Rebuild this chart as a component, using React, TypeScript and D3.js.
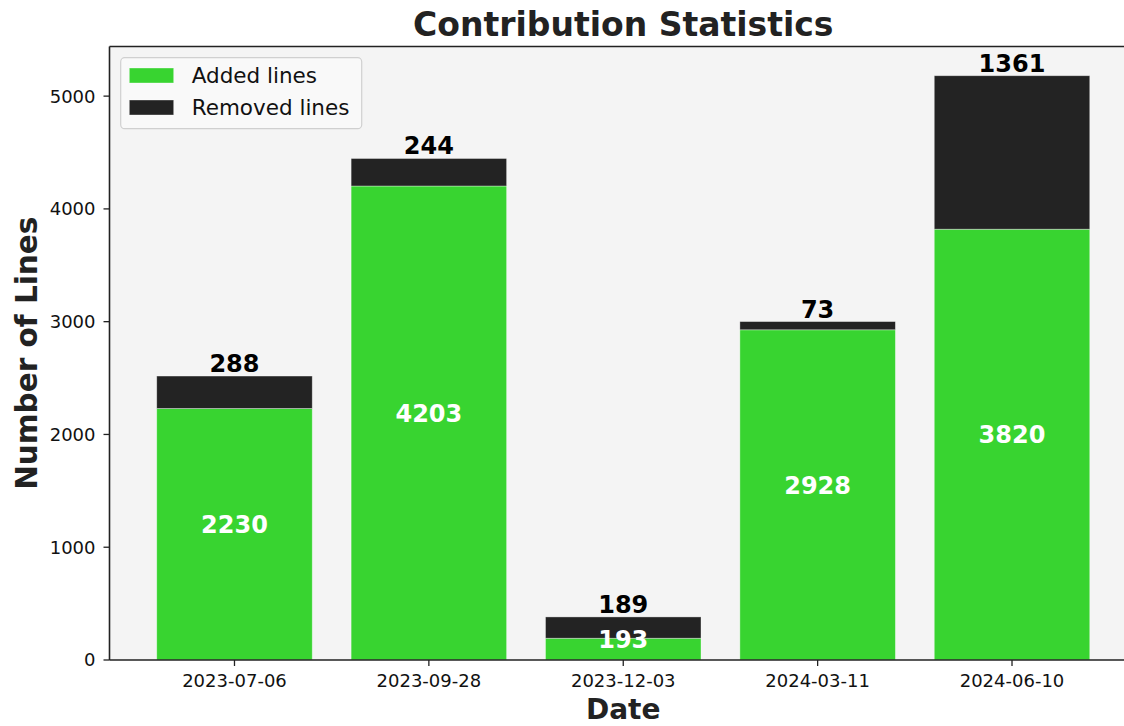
import * as d3 from "d3";

const dates = ["2023-07-06", "2023-09-28", "2023-12-03", "2024-03-11", "2024-06-10"];
const addedLines = [2230, 4203, 193, 2928, 3820];
const removedLines = [288, 244, 189, 73, 1361];
const yTicks = [0, 1000, 2000, 3000, 4000, 5000];

const W = 1124;
const H = 726;
const plot = { left: 109.5, right: 1137, top: 46.5, bottom: 660 };

const GREEN = "#38d430";
const DARK = "#232323";
const FONT = "DejaVu Sans, sans-serif";

export default function App() {
	const totals = dates.map((_, i) => addedLines[i] + removedLines[i]);
	const x = d3
		.scaleBand<string>()
		.domain(dates)
		.range([plot.left, plot.right])
		.paddingInner(0.2)
		.paddingOuter(0.243);
	const y = d3
		.scaleLinear()
		.domain([0, (d3.max(totals) ?? 0) * 1.05])
		.range([plot.bottom, plot.top]);
	const bw = x.bandwidth();

	return (
		<svg
			width={W}
			height={H}
			style={{ display: "block", position: "absolute", left: 0, top: 0 }}
			fontFamily={FONT}
		>
			<rect x={0} y={0} width={W} height={H} fill="#ffffff" />
			{/* plot background */}
			<rect
				x={plot.left}
				y={plot.top}
				width={plot.right - plot.left}
				height={plot.bottom - plot.top}
				fill="#f4f4f4"
			/>

			{/* bars */}
			{dates.map((d, i) => {
				const x0 = x(d) ?? 0;
				const yA = y(addedLines[i]);
				const yT = y(totals[i]);
				return (
					<g key={d}>
						<rect
							x={x0}
							y={yA}
							width={bw}
							height={y(0) - yA}
							fill={GREEN}
							stroke="#ffffff"
							strokeOpacity={0.45}
							strokeWidth={0.8}
						/>
						<rect
							x={x0}
							y={yT}
							width={bw}
							height={yA - yT}
							fill={DARK}
							stroke="#ffffff"
							strokeOpacity={0.45}
							strokeWidth={0.8}
						/>
						<text
							x={x0 + bw / 2}
							y={y(addedLines[i] / 2) - 1.2}
							textAnchor="middle"
							fontSize={24}
							fontWeight="bold"
							fill="#ffffff"
						>
							{addedLines[i]}
						</text>
						<text
							x={x0 + bw / 2}
							y={yT - 4}
							textAnchor="middle"
							fontSize={24}
							fontWeight="bold"
							fill="#000000"
						>
							{removedLines[i]}
						</text>
					</g>
				);
			})}

			{/* spines */}
			<line x1={plot.left} x2={plot.right} y1={plot.top} y2={plot.top} stroke="#222" strokeWidth={1.6} />
			<line x1={plot.left} x2={plot.left} y1={plot.top} y2={plot.bottom} stroke="#222" strokeWidth={1.6} />
			<line x1={plot.left} x2={plot.right} y1={plot.bottom} y2={plot.bottom} stroke="#222" strokeWidth={1.6} />

			{/* y axis */}
			{yTicks.map((t) => (
				<g key={t}>
					<line x1={plot.left - 6} x2={plot.left} y1={y(t)} y2={y(t)} stroke="#222" strokeWidth={1.3} />
					<text x={plot.left - 14} y={y(t)} dy="0.36em" textAnchor="end" fontSize={18} fill="#111">
						{t}
					</text>
				</g>
			))}

			{/* x axis */}
			{dates.map((d) => {
				const cx = (x(d) ?? 0) + bw / 2;
				return (
					<g key={d}>
						<line x1={cx} x2={cx} y1={plot.bottom} y2={plot.bottom + 6} stroke="#222" strokeWidth={1.3} />
						<text x={cx} y={687} textAnchor="middle" fontSize={18} fill="#111">
							{d}
						</text>
					</g>
				);
			})}

			{/* titles */}
			<text x={(plot.left + plot.right) / 2} y={36} textAnchor="middle" fontSize={33} fontWeight="bold" fill="#222">
				Contribution Statistics
			</text>
			<text x={(plot.left + plot.right) / 2} y={719} textAnchor="middle" fontSize={28} fontWeight="bold" fill="#222">
				Date
			</text>
			<text
				transform={`translate(37,${(plot.top + plot.bottom) / 2}) rotate(-90)`}
				textAnchor="middle"
				fontSize={29.5}
				fontWeight="bold"
				fill="#222"
			>
				Number of Lines
			</text>

			{/* legend */}
			<g>
				<rect x={120.7} y={57.7} width={241} height={71} rx={4} fill="#f9f9f9" stroke="#d0d0d0" strokeWidth={1.2} />
				<rect x={129.3} y={68} width={44.4} height={15} fill={GREEN} stroke="#ffffff" strokeOpacity={0.45} strokeWidth={0.8} />
				<text x={191.7} y={83.3} fontSize={21.5} fill="#111">
					Added lines
				</text>
				<rect x={129.3} y={100} width={44.4} height={15} fill={DARK} stroke="#ffffff" strokeOpacity={0.45} strokeWidth={0.8} />
				<text x={191.7} y={115.3} fontSize={21.5} fill="#111">
					Removed lines
				</text>
			</g>
		</svg>
	);
}
